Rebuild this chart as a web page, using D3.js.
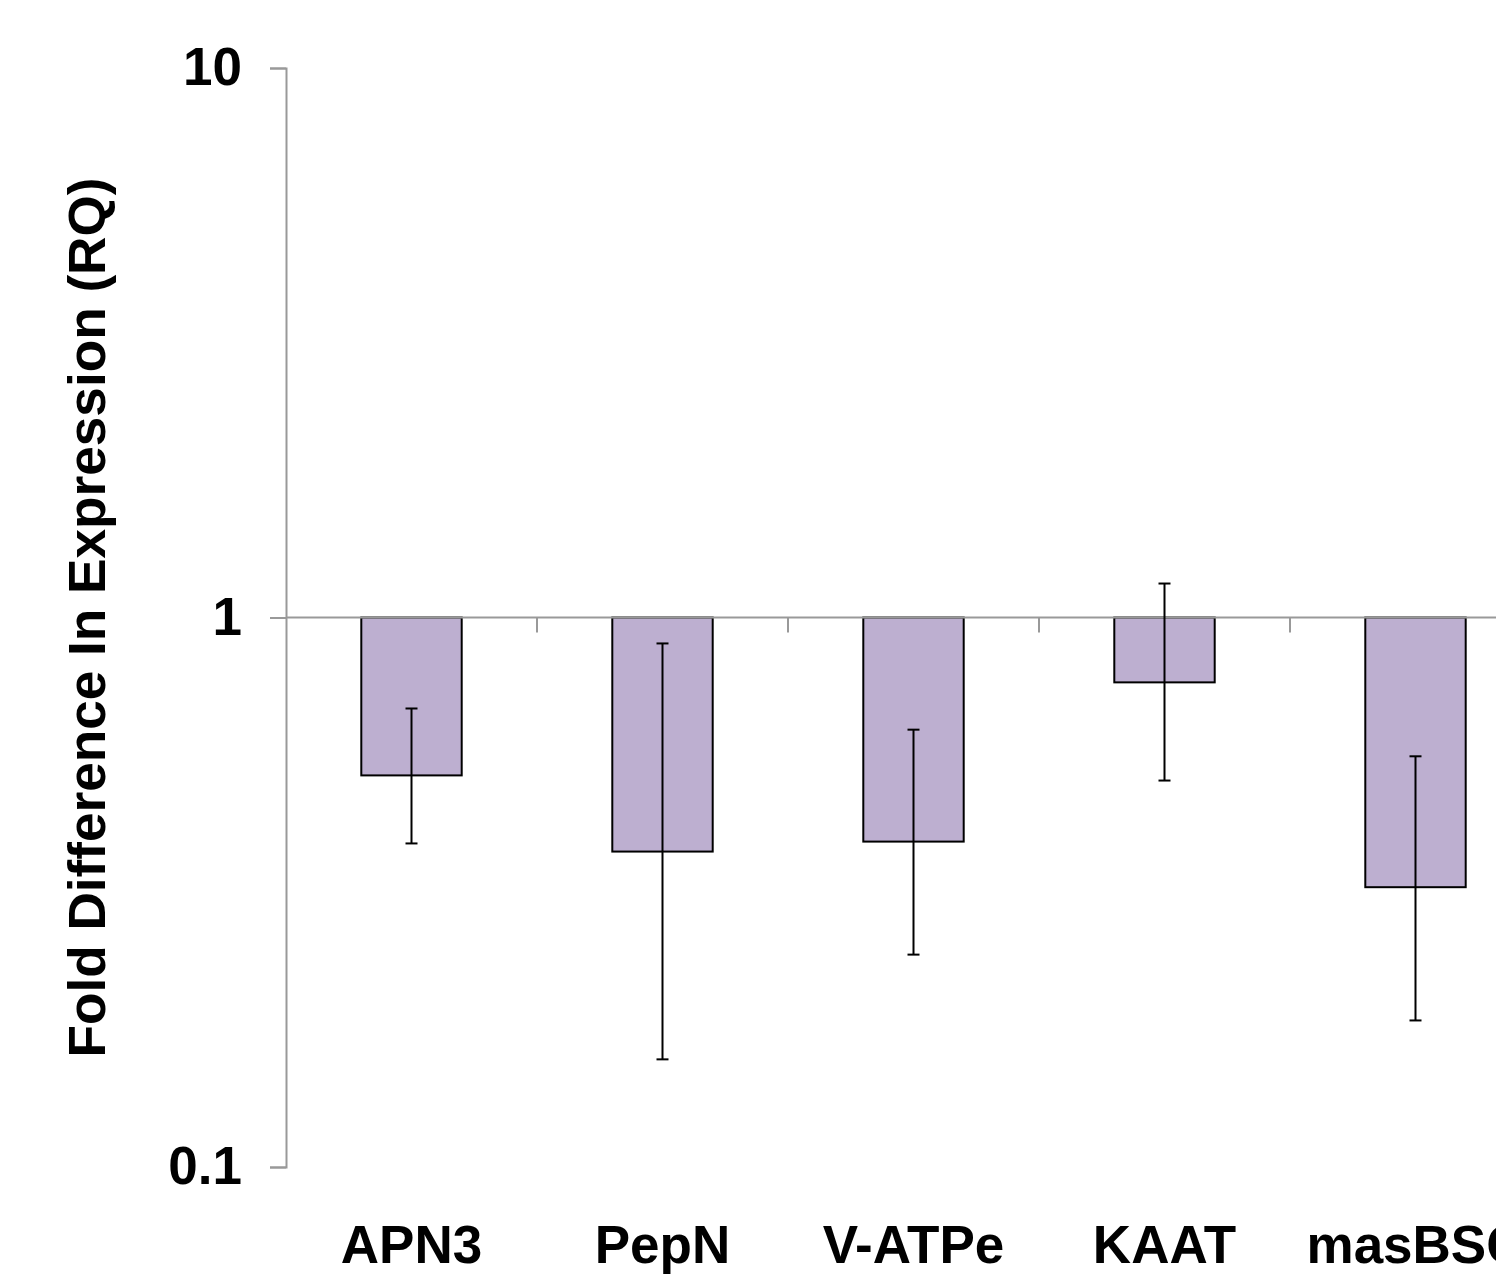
<!DOCTYPE html>
<html>
<head>
<meta charset="utf-8">
<script src="https://cdn.jsdelivr.net/npm/d3@7"></script>
<style>
  body { margin: 0; background: #fff; }
  text { font-family: "Liberation Sans", Arial, sans-serif; font-weight: bold; }
</style>
</head>
<body>
<svg width="1496" height="1280"></svg>
<script>
const genes = ["APN3", "PepN", "V-ATPe", "KAAT", "masBSC"];
const rq = [0.516, 0.375, 0.391, 0.762, 0.323];
const errHigh = [0.683, 0.897, 0.625, 1.153, 0.559];
const errLow = [0.388, 0.157, 0.2435, 0.505, 0.1848];
const yTicks = [0.1, 1, 10];

const svg = d3.select("svg");
const plotLeft = 286, plotTop = 68, plotBottom = 1167;
const band = 251;

const x = d3
  .scaleBand()
  .domain(genes)
  .range([plotLeft, plotLeft + band * genes.length])
  .paddingInner(0.6)
  .paddingOuter(0.3);

const y = d3.scaleLog().domain([0.1, 10]).range([plotBottom, plotTop]);

// y axis
const yAxis = svg
  .append("g")
  .attr("transform", `translate(${plotLeft},0)`)
  .call(d3.axisLeft(y).tickValues(yTicks).tickFormat(d3.format("")).tickSize(16).tickPadding(28));
yAxis.select(".domain").attr("stroke", "#999").attr("stroke-width", 2);
yAxis.selectAll(".tick line").attr("stroke", "#999").attr("stroke-width", 2);
yAxis.selectAll(".tick text").attr("font-size", 53).attr("fill", "#000")
  .style("font-family", "Liberation Sans, Arial, sans-serif").style("font-weight", "bold");

// bars
const cx = (g) => x(g) + x.bandwidth() / 2;
svg
  .append("g")
  .selectAll("rect")
  .data(genes)
  .enter()
  .append("rect")
  .attr("x", (d) => x(d))
  .attr("width", x.bandwidth())
  .attr("y", y(1))
  .attr("height", (d, i) => y(rq[i]) - y(1))
  .attr("fill", "#bdafd0")
  .attr("stroke", "#000")
  .attr("stroke-width", 2);

// x axis at y = 1
const xg = svg.append("g");
xg.append("line")
  .attr("x1", plotLeft).attr("x2", 1496)
  .attr("y1", y(1)).attr("y2", y(1))
  .attr("stroke", "#999").attr("stroke-width", 2);
xg.selectAll(".sep")
  .data(genes.slice(1))
  .enter()
  .append("line")
  .attr("x1", (d) => plotLeft + band * genes.indexOf(d))
  .attr("x2", (d) => plotLeft + band * genes.indexOf(d))
  .attr("y1", y(1)).attr("y2", y(1) + 15)
  .attr("stroke", "#999").attr("stroke-width", 2);

// error bars
const eb = svg.append("g").attr("stroke", "#000").attr("stroke-width", 2);
genes.forEach((g, i) => {
  const c = cx(g);
  eb.append("line").attr("x1", c).attr("x2", c).attr("y1", y(errHigh[i])).attr("y2", y(errLow[i]));
  eb.append("line").attr("x1", c - 6).attr("x2", c + 6).attr("y1", y(errHigh[i])).attr("y2", y(errHigh[i]));
  eb.append("line").attr("x1", c - 6).attr("x2", c + 6).attr("y1", y(errLow[i])).attr("y2", y(errLow[i]));
});

// category labels
svg
  .append("g")
  .selectAll("text")
  .data(genes)
  .enter()
  .append("text")
  .attr("x", (d) => cx(d))
  .attr("y", 1263)
  .attr("text-anchor", "middle")
  .attr("font-size", 53)
  .text((d) => d);

// y title
svg
  .append("text")
  .attr("transform", `translate(105,${y(1)}) rotate(-90)`)
  .attr("text-anchor", "middle")
  .attr("font-size", 51)
  .attr("textLength", 880)
  .attr("lengthAdjust", "spacingAndGlyphs")
  .text("Fold Difference In Expression (RQ)");
</script>
</body>
</html>
